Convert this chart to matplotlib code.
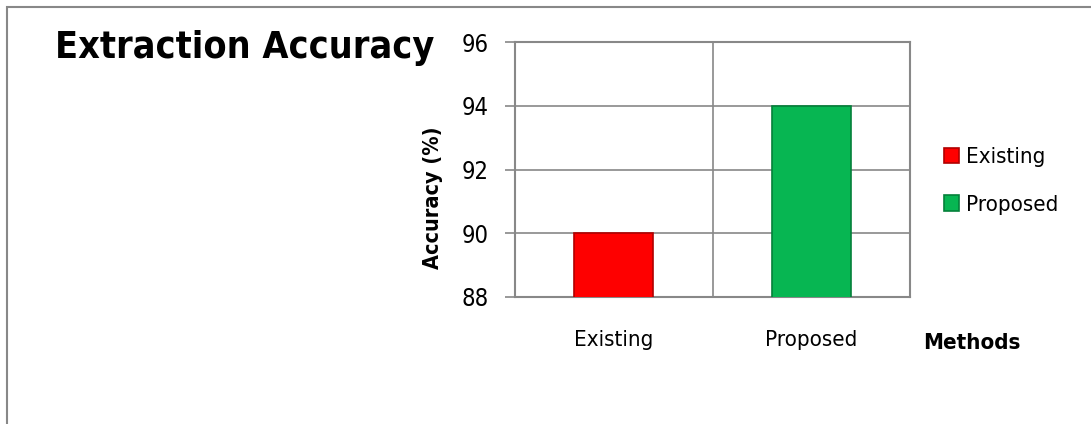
import matplotlib.pyplot as plt
from matplotlib.patches import Rectangle

# data
methods = ['Existing', 'Proposed']
accuracy = [90, 94]
colors = ['#fe0000', '#07b652']
edges = ['#b00000', '#04803a']
yticks = [88, 90, 92, 94, 96]

plt.rcParams['font.family'] = ['DejaVu Sans']
plt.rcParams['font.stretch'] = 'condensed'

fig = plt.figure(figsize=(10.91, 4.24), dpi=100)

# outer frame of the chart area
fig.patches.append(Rectangle((7 / 1091, -0.1), 1.2, 1 - 7 / 424 + 0.1, transform=fig.transFigure,
                             fill=False, edgecolor='#888888', linewidth=1.5))

ax = fig.add_axes([515 / 1091, 1 - 297 / 424, 395 / 1091, 255 / 424])

x = range(len(methods))
bars = ax.bar(x, accuracy, width=0.4, color=colors, edgecolor=edges, linewidth=1.2,
              label=methods, zorder=3)

ax.set_ylim(88, 96)
ax.set_xlim(-0.5, 1.5)
ax.set_yticks(yticks)
ax.set_yticklabels([str(t) for t in yticks], fontsize=17, fontstretch='condensed')
ax.set_xticks(list(x))
ax.set_xticklabels(methods, fontsize=16, fontstretch='condensed')
ax.tick_params(axis='x', length=0, pad=24)
ax.tick_params(axis='y', length=7, color='#888888', width=1.2, pad=12)

# horizontal grid + category separator
ax.grid(axis='y', color='#888888', linewidth=1.2, zorder=0)
ax.axvline(0.5, color='#888888', linewidth=1.2, zorder=0)
for s in ax.spines.values():
    s.set_color('#888888')
    s.set_linewidth(1.5)

fig.text(433 / 1091, 1 - 198 / 424, 'Accuracy (%)', fontsize=15.5, fontweight='bold',
         fontstretch='condensed', rotation=90, ha='center', va='center')
fig.text(972 / 1091, 1 - 343 / 424, 'Methods', fontsize=16, fontweight='bold',
         fontstretch='condensed', ha='center', va='center')

fig.text(55 / 1091, 1 - 48 / 424, 'Extraction Accuracy', fontsize=27, fontweight='bold',
         fontstretch='condensed', ha='left', va='center')

ax.legend(handles=list(bars), labels=methods, loc='center left', bbox_to_anchor=(1.035, 0.455),
          frameon=False, prop={'size': 16, 'stretch': 'condensed'}, handlelength=0.7,
          handleheight=0.7, handletextpad=0.3, labelspacing=1.25)

fig.savefig('out.png', dpi=100)
